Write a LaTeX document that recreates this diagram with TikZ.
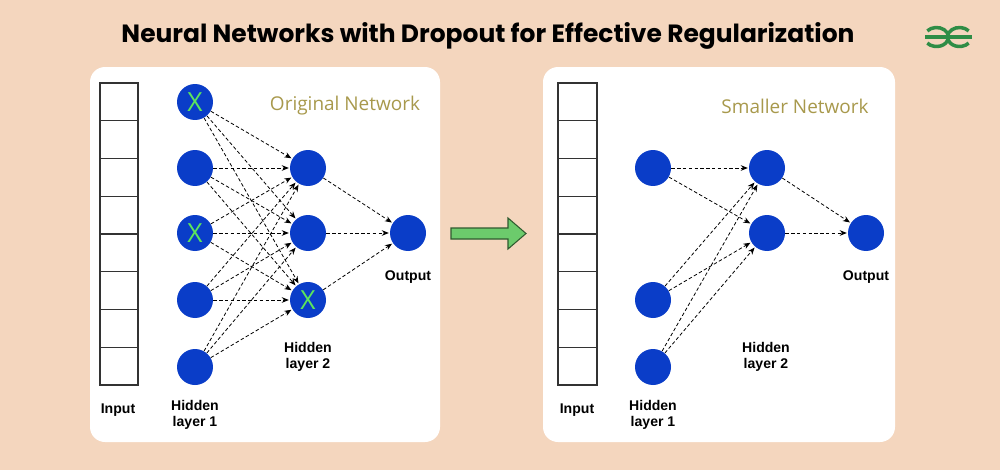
\documentclass[tikz,border=0pt]{standalone}
\usepackage{fontspec}
\setmainfont{Liberation Sans}
\newfontfamily\titlefont{Poppins}
\newfontfamily\netfont{Open Sans}
\usetikzlibrary{arrows.meta}
\definecolor{peach}{HTML}{F4D6BE}
\definecolor{nodeblue}{HTML}{0A3DC8}
\definecolor{crossgreen}{HTML}{5CE65C}
\definecolor{olive}{HTML}{A8994C}
\definecolor{arrowgreen}{HTML}{6CCB6C}
\definecolor{arrowedge}{HTML}{2F5A2F}
\definecolor{gfg}{HTML}{2F8D46}
\begin{document}
\begin{tikzpicture}[x=0.02cm,y=-0.02cm,
  neuron/.style={circle, fill=nodeblue, minimum size=0.72cm, inner sep=0pt,
    text=crossgreen, font=\netfont\fontsize{15}{15}\selectfont},
  link/.style={-{Stealth[length=4pt,width=3.2pt]}, dash pattern=on 2pt off 1.3pt,
    line width=0.45pt, shorten >=0.5pt},
  lbl/.style={font=\bfseries\fontsize{8}{9.2}\selectfont, align=center},
  caption/.style={text=olive, font=\netfont\fontsize{10.8}{12}\selectfont},
  panel/.style={fill=white, rounded corners=0.3cm},
  cell/.style={draw=black!80, line width=0.6pt}]

  % background and title
  \fill[peach] (0,0) rectangle (1000,470);
  \node[font=\titlefont\bfseries\fontsize{14.2}{16}\selectfont] (title) at (488,36)
    {Neural Networks with Dropout for Effective Regularization};

  % logo
  \begin{scope}[gfg, line width=0.07cm]
    \draw (927.3,30.9) arc[start angle=-140, end angle=140, x radius=12, y radius=9.5];
    \draw (968.7,30.9) arc[start angle=-40, end angle=-320, x radius=12, y radius=9.5];
    \draw (925,37) -- (972,37);
  \end{scope}

  % original network
  \fill[panel] (90,67) rectangle (440,442);
  \foreach \i in {0,...,7}
    \draw[cell] (100,83+\i*37.75) rectangle ++(38,37.75);
  \node[caption] (orig) at (345,106) {Original Network};

  \node[neuron] (a1) at (195,102) {X};
  \node[neuron] (a2) at (195,168) {};
  \node[neuron] (a3) at (195,233) {X};
  \node[neuron] (a4) at (195,300) {};
  \node[neuron] (a5) at (195,367) {};

  \node[neuron] (b1) at (308,168) {};
  \node[neuron] (b2) at (308,233) {};
  \node[neuron] (b3) at (308,300) {X};

  \node[neuron] (c1) at (408,233) {};

  \foreach \i in {1,...,5}
    \foreach \j in {1,2,3}
      \draw[link] (a\i) -- (b\j);
  \foreach \j in {1,2,3}
    \draw[link] (b\j) -- (c1);

  \node[lbl] (in1) at (118,410) {Input};
  \node[lbl] (hl1) at (195,415) {Hidden\\layer 1};
  \node[lbl] (hl2) at (308,357) {Hidden\\layer 2};
  \node[lbl] (out1) at (408,277) {Output};

  % arrow between the panels
  \draw[fill=arrowgreen, draw=arrowedge, line width=0.6pt]
    (451,228) -- (508,228) -- (508,218) -- (526,233.5) -- (508,249)
    -- (508,239) -- (451,239) -- cycle;

  % smaller network
  \fill[panel] (543,67) rectangle (895,442);
  \foreach \i in {0,...,7}
    \draw[cell] (558,83+\i*37.75) rectangle ++(39,37.75);
  \node[caption] (small) at (795,106) {Smaller Network};

  \node[neuron] (d1) at (653,168) {};
  \node[neuron] (d2) at (653,300) {};
  \node[neuron] (d3) at (653,367) {};

  \node[neuron] (e1) at (767,168) {};
  \node[neuron] (e2) at (767,233) {};

  \node[neuron] (f1) at (866,233) {};

  \foreach \i in {1,2,3}
    \foreach \j in {1,2}
      \draw[link] (d\i) -- (e\j);
  \foreach \j in {1,2}
    \draw[link] (e\j) -- (f1);

  \node[lbl] (in2) at (577,410) {Input};
  \node[lbl] (hl3) at (653,415) {Hidden\\layer 1};
  \node[lbl] (hl4) at (766,357) {Hidden\\layer 2};
  \node[lbl] (out2) at (866,277) {Output};
\end{tikzpicture}
\end{document}
